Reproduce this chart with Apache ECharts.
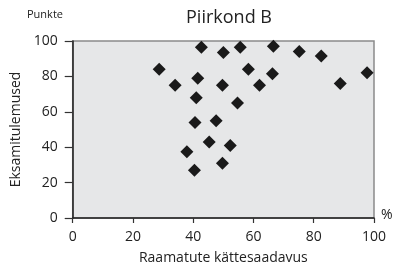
<!DOCTYPE html>
<html>
<head>
<meta charset="utf-8">
<script src="https://cdn.jsdelivr.net/npm/echarts@6/dist/echarts.min.js"></script>
<style>
  html, body { margin: 0; padding: 0; background: #fff; }
  #chart { width: 397px; height: 270px; }
</style>
</head>
<body>
<div id="chart"></div>
<script>
// Raamatute kättesaadavus (%) vs Eksamitulemused (punkte)
var availability = [28.7, 34.0, 41.5, 42.7, 41.0, 40.6, 37.9, 40.4, 45.3, 47.6, 50.0, 49.7,
                    49.7, 52.3, 54.7, 55.6, 58.3, 62.0, 66.3, 66.6, 75.2, 82.5, 88.8, 97.7];
var scores = [84, 75, 79, 96.5, 68, 54, 37.5, 27, 43, 55, 93.5, 75,
              31, 41, 65, 96.5, 84, 75, 81.5, 97, 94, 91.5, 76, 82];
var xTicks = [0, 20, 40, 60, 80, 100];
var yTicks = [0, 20, 40, 60, 80, 100];

var points = [];
for (var i = 0; i < availability.length; i++) {
    points.push([availability[i], scores[i]]);
}

var font = '"Open Sans", "Noto Sans", sans-serif';
var myChart = echarts.init(document.getElementById('chart'));
myChart.setOption({
    animation: false,
    title: {
        text: 'Piirkond B',
        left: 224,
        textAlign: 'center',
        top: 4,
        textStyle: { fontFamily: font, fontSize: 18, fontWeight: 'normal', color: '#222' }
    },
    graphic: [
        { type: 'text', left: 27, top: 9,
          style: { text: 'Punkte', font: '11px ' + font, fill: '#222' } },
        { type: 'text', left: 381, top: 208,
          style: { text: '%', font: '14px ' + font, fill: '#222' } }
    ],
    grid: {
        left: 72.7, right: 23, top: 41, bottom: 48,
        show: true,
        backgroundColor: '#e6e7e8',
        borderColor: '#8a8a8a',
        borderWidth: 1.5
    },
    xAxis: {
        type: 'value',
        min: xTicks[0], max: xTicks[xTicks.length - 1], interval: 20,
        name: 'Raamatute kättesaadavus',
        nameLocation: 'middle',
        nameGap: 33,
        nameTextStyle: { fontFamily: font, fontSize: 14, color: '#222' },
        axisLine: { show: true, lineStyle: { color: '#222', width: 1.5 } },
        axisTick: { show: true, length: 5, lineStyle: { color: '#333', width: 1.2 } },
        axisLabel: { fontFamily: font, fontSize: 14, color: '#222', margin: 12 },
        splitLine: { show: false }
    },
    yAxis: {
        type: 'value',
        min: yTicks[0], max: yTicks[yTicks.length - 1], interval: 20,
        name: 'Eksamitulemused',
        nameLocation: 'middle',
        nameGap: 46,
        nameTextStyle: { fontFamily: font, fontSize: 14, color: '#222' },
        axisLine: { show: true, lineStyle: { color: '#222', width: 1.5 } },
        axisTick: { show: true, length: 8, lineStyle: { color: '#333', width: 1.2 } },
        axisLabel: { fontFamily: font, fontSize: 14, color: '#222', margin: 15 },
        splitLine: { show: false }
    },
    series: [{
        type: 'scatter',
        symbol: 'diamond',
        symbolSize: 13,
        itemStyle: { color: '#1a1a1a', opacity: 1 },
        data: points
    }]
});
</script>
</body>
</html>
